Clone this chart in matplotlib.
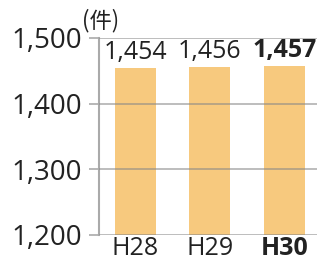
import matplotlib
matplotlib.use("Agg")
import matplotlib.pyplot as plt

categories = ["H28", "H29", "H30"]
values = [1454, 1456, 1457]
value_labels = ["1,454", "1,456", "1,457"]
yticks = [1200, 1300, 1400, 1500]
ytick_labels = ["1,200", "1,300", "1,400", "1,500"]
unit = "(件)"

plt.rcParams['font.family'] = ['Open Sans', 'Noto Sans CJK JP', 'DejaVu Sans']

fig = plt.figure(figsize=(3.17, 2.65), dpi=100)
ax = fig.add_axes([99/317, 30/265, 1 - 99/317, (235-38)/265])

x = list(range(len(categories)))
ax.bar(x, values, width=0.55, color="#F7C97E", zorder=1)
ax.set_ylim(1200, 1500)
ax.set_xlim(-0.485, 2.44)

ax.set_yticks(yticks)
ax.set_yticklabels(ytick_labels, fontsize=20, color="#222222", fontweight="normal")
ax.set_xticks(x)
ax.set_xticklabels(categories, fontsize=18, color="#222222", fontweight="normal")
ax.get_xticklabels()[-1].set_fontweight("bold")

ax.tick_params(axis="y", length=7.5, width=1.2, color="#aaaaaa", pad=5)
ax.tick_params(axis="x", length=0, pad=1)

ax.yaxis.grid(True, color="#888888", alpha=0.65, linewidth=1.2, zorder=3)
ax.set_axisbelow(False)

for s in ["top", "right", "bottom"]:
    ax.spines[s].set_visible(False)
ax.spines["left"].set_color("#aaaaaa")
ax.spines["left"].set_linewidth(1.5)

for i, (v, lab) in enumerate(zip(values, value_labels)):
    ax.annotate(lab, (i, v), xytext=(0, 2), textcoords="offset points",
                ha="center", va="bottom", fontsize=18, color="#222222",
                fontweight="bold" if i == len(values) - 1 else "normal")

fig.text(82/317, 1 - 21/265, unit, fontsize=16, color="#222222",
         ha="left", va="center", family=['Noto Sans CJK JP', 'DejaVu Sans'])

fig.savefig("out.png", dpi=100)
